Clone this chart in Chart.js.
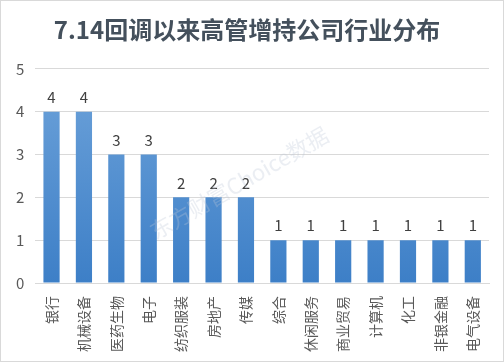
<!DOCTYPE html>
<html>
<head>
<meta charset="utf-8">
<script src="https://cdn.jsdelivr.net/npm/chart.js@4/dist/chart.umd.min.js"></script>
<style>
  html, body { margin: 0; padding: 0; background: #fff; }
  #wrap { position: relative; width: 502px; height: 360px; border: 1px solid #d9d9d9; }
</style>
</head>
<body>
<div id="wrap"><canvas id="chart1" width="502" height="360"></canvas></div>
<script>
// chart data
const industries = ["银行", "机械设备", "医药生物", "电子", "纺织服装", "房地产", "传媒",
  "综合", "休闲服务", "商业贸易", "计算机", "化工", "非银金融", "电气设备"];
const companyCounts = [4, 4, 3, 3, 2, 2, 2, 1, 1, 1, 1, 1, 1, 1];
const yTicks = [0, 1, 2, 3, 4, 5];

const FONT = "'Noto Sans CJK SC', 'Noto Sans', sans-serif";

// values above the bars
const valueLabels = {
  id: "valueLabels",
  afterDatasetsDraw(chart) {
    const ctx = chart.ctx;
    const meta = chart.getDatasetMeta(0);
    ctx.save();
    ctx.font = "15px " + FONT;
    ctx.fillStyle = "#404040";
    ctx.textAlign = "center";
    ctx.textBaseline = "bottom";
    meta.data.forEach((bar, i) => {
      ctx.fillText(companyCounts[i], bar.x, bar.y - 7);
    });
    ctx.restore();
  }
};

// faint watermark
const watermark = {
  id: "watermark",
  afterDraw(chart) {
    const ctx = chart.ctx;
    ctx.save();
    ctx.translate(238, 182);
    ctx.rotate(-0.52);
    ctx.font = "22px " + FONT;
    ctx.fillStyle = "rgba(190,200,215,0.3)";
    ctx.textAlign = "center";
    ctx.textBaseline = "middle";
    ctx.fillText("东方财富Choice数据", 0, 0);
    ctx.restore();
  }
};

function barGradient(context) {
  const area = context.chart.chartArea;
  if (!area) return "#4a8bd0";
  const g = context.chart.ctx.createLinearGradient(0, area.top, 0, area.bottom);
  g.addColorStop(0, "#6ea3da");
  g.addColorStop(1, "#3d7fc7");
  return g;
}

new Chart(document.getElementById("chart1"), {
  type: "bar",
  data: {
    labels: industries,
    datasets: [{
      data: companyCounts,
      backgroundColor: barGradient,
      categoryPercentage: 1.0,
      barPercentage: 0.5
    }]
  },
  options: {
    responsive: false,
    animation: false,
    devicePixelRatio: 1,
    layout: { padding: { left: 4, right: 14, top: 6, bottom: 4 } },
    plugins: {
      legend: { display: false },
      tooltip: { enabled: false },
      title: {
        display: true,
        text: "7.14回调以来高管增持公司行业分布",
        color: "#44505c",
        font: { family: FONT, size: 24, weight: "bold" },
        padding: { top: 8, bottom: 25 }
      }
    },
    scales: {
      x: {
        grid: { display: false },
        border: { color: "#d9d9d9" },
        ticks: {
          color: "#595959",
          font: { family: FONT, size: 14 },
          minRotation: 90,
          maxRotation: 90,
          padding: 5
        }
      },
      y: {
        min: yTicks[0],
        max: yTicks[yTicks.length - 1],
        afterBuildTicks: axis => { axis.ticks = yTicks.map(v => ({ value: v })); },
        grid: { color: "#d9d9d9", drawTicks: false },
        border: { display: false },
        ticks: {
          color: "#595959",
          font: { family: FONT, size: 15 },
          padding: 11
        }
      }
    }
  },
  plugins: [valueLabels, watermark]
});
</script>
</body>
</html>
